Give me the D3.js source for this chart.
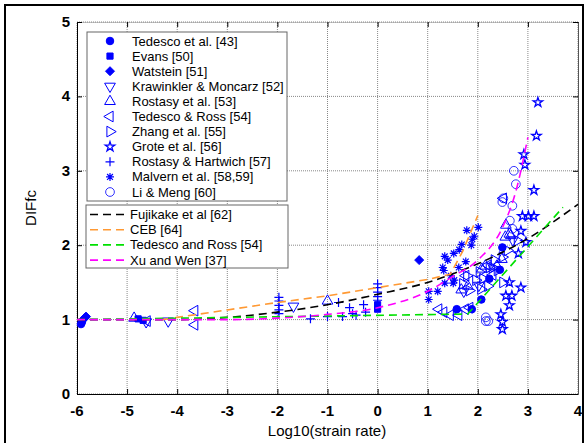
<!DOCTYPE html>
<html>
<head>
<title>DIFfc vs strain rate</title>
<style>
  body { margin: 0; background: #fff; }
  svg text { font-family: Arial, "Liberation Sans", sans-serif; }
</style>
</head>
<body>
<script src="https://d3js.org/d3.v7.min.js"></script>
<script>

var width = 585, height = 443;

// axis ticks
var xTicks = [-6, -5, -4, -3, -2, -1, 0, 1, 2, 3, 4];
var yTicks = [0, 1, 2, 3, 4, 5];

// experimental data, x = log10(strain rate), y = DIFfc
var tedesco43X = [-5.92, -5.9, 1.58, 1.88, 2.07, 2.23, 2.44, 2.49];
var tedesco43Y = [0.94, 0.97, 1.14, 1.14, 1.27, 1.55, 1.67, 1.97];
var evansX = [-4.78, -4.68, 0.0, 0.0];
var evansY = [1.01, 0.99, 1.14, 1.2];
var watsteinX = [-5.85, -5.82, 0.83];
var watsteinY = [1.02, 1.04, 1.8];
var krawinklerX = [-4.62, -4.18, -1.68, 1.72, 2.02, 2.7];
var krawinklerY = [0.97, 0.98, 1.18, 1.38, 1.46, 2.07];
var rostasyX = [-4.86, -1.0, 1.67, 1.8, 2.08, 2.15, 2.38, 2.48, 2.55, 2.63, 2.56, 2.66];
var rostasyY = [1.02, 1.25, 1.4, 1.45, 1.68, 1.72, 1.72, 1.81, 2.11, 2.15, 2.27, 2.13];
var tedescoRossX = [-4.6, -3.65, -3.65, 1.22, 1.32, 1.45, 1.62, 1.75, 1.84, 1.76, 2.2, 2.51, 2.3];
var tedescoRossY = [0.98, 1.12, 0.93, 1.14, 1.1, 1.06, 1.06, 1.14, 1.16, 1.59, 1.73, 2.63, 1.6];
var zhangX = [1.7, 1.78, 1.83, 1.96, 2.03, 2.06, 2.23, 2.29, 2.33, 2.39, 2.49, 2.59, 2.79, 2.5, 2.2, 2.1];
var zhangY = [1.48, 1.59, 1.39, 1.53, 1.64, 1.41, 1.7, 1.7, 1.8, 1.66, 1.84, 1.93, 2.06, 1.5, 1.45, 1.55];
var groteX = [2.89, 3.01, 3.12, 2.86, 2.96, 2.81, 2.63, 2.86, 2.56, 2.68, 2.63, 2.46, 2.49, 2.49, 3.2, 3.17, 2.92, 2.94, 3.12];
var groteY = [2.39, 2.39, 2.39, 2.19, 2.04, 1.89, 1.5, 1.43, 1.32, 1.32, 1.19, 1.07, 0.97, 0.87, 3.92, 3.47, 3.22, 3.08, 2.74];
var hartwichX = [-1.97, -1.97, -1.97, -1.97, -1.97, -1.34, -1.0, -0.78, -0.7, -0.56, -0.5, -0.43, -0.28, -0.24, 0, 0, 0, 0, 0];
var hartwichY = [1.3, 1.25, 1.19, 1.13, 1.08, 1.01, 1.04, 1.23, 1.04, 1.16, 1.08, 1.06, 1.2, 1.1, 1.48, 1.43, 1.37, 1.31, 1.26];
var malvernX = [1.02, 1.02, 1.2, 1.3, 1.34, 1.4, 1.52, 1.63, 1.68, 1.78, 1.87, 1.93, 2.01, 1.34, 1.51, 1.62, 1.76, 1.46, 1.53, 1.32, 1.89];
var malvernY = [1.38, 1.27, 1.38, 1.7, 1.85, 1.8, 1.89, 1.94, 2.01, 2.2, 2.0, 2.12, 2.24, 1.49, 1.49, 1.7, 1.78, 1.59, 1.53, 1.66, 2.08];
var liMengX = [2.72, 2.76, 2.51, 2.69, 2.64, 2.69, 2.16, 2.21, 2.16, 2.49];
var liMengY = [3.0, 2.82, 2.63, 2.53, 2.33, 2.22, 1.03, 0.98, 0.98, 2.58];

// model curves
var fujikakeX = [-6, -4, -3, -2, -1, 0, 1, 2, 3, 4];
var fujikakeY = [1.0, 1.0, 1.03, 1.1, 1.2, 1.34, 1.5, 1.75, 2.09, 2.55];
var cebX = [-4.3, -4, -3, -2, -1, 0, 1, 1.45, 1.7, 2.0];
var cebY = [1.0, 1.03, 1.13, 1.23, 1.32, 1.43, 1.54, 1.61, 1.92, 2.4];
var tedRossX = [-6, 1.8, 3.7];
var tedRossY = [1.0, 1.075, 2.51];
var xuWenX = [-6, -3, -2, -1, 0, 1, 1.5, 2, 2.5, 2.75, 3.0];
var xuWenY = [1.0, 1.0, 1.02, 1.07, 1.16, 1.38, 1.58, 1.8, 2.25, 2.7, 3.45];

var blue = '#0000ff';

var svg = d3.select('body').append('svg')
    .attr('width', width)
    .attr('height', height);

// outer frame
svg.append('rect')
    .attr('x', 5).attr('y', 5)
    .attr('width', 578).attr('height', 460)
    .attr('fill', 'none').attr('stroke', '#000').attr('stroke-width', 2);

var x = d3.scaleLinear().domain([-6, 4]).range([77, 578]);
var y = d3.scaleLinear().domain([0, 5]).range([394, 22]);

// grid
var grid = svg.append('g');
grid.selectAll('.gx').data(xTicks).enter().append('line')
    .attr('x1', function (d) { return x(d); }).attr('x2', function (d) { return x(d); })
    .attr('y1', y(0)).attr('y2', y(5))
    .attr('stroke', '#888').attr('stroke-dasharray', '1,1');
grid.selectAll('.gy').data(yTicks).enter().append('line')
    .attr('y1', function (d) { return y(d); }).attr('y2', function (d) { return y(d); })
    .attr('x1', x(-6)).attr('x2', x(4))
    .attr('stroke', '#888').attr('stroke-dasharray', '1,1');

// axes with inward ticks
function styleAxis(g) {
    g.select('.domain').attr('stroke', '#000');
    g.selectAll('.tick line').attr('stroke', '#000');
    g.selectAll('text').remove();
}
svg.append('g').attr('transform', 'translate(0,' + y(0) + ')')
    .call(d3.axisBottom(x).tickValues(xTicks).tickSizeInner(-5).tickSizeOuter(0)).call(styleAxis);
svg.append('g').attr('transform', 'translate(0,' + y(5) + ')')
    .call(d3.axisTop(x).tickValues(xTicks).tickSizeInner(-5).tickSizeOuter(0)).call(styleAxis)
    .select('.domain').attr('stroke', '#888').attr('stroke-dasharray', '1,1');
svg.append('g').attr('transform', 'translate(' + x(-6) + ',0)')
    .call(d3.axisLeft(y).tickValues(yTicks).tickSizeInner(-5).tickSizeOuter(0)).call(styleAxis);
svg.append('g').attr('transform', 'translate(' + x(4) + ',0)')
    .call(d3.axisRight(y).tickValues(yTicks).tickSizeInner(-5).tickSizeOuter(0)).call(styleAxis)
    .select('.domain').attr('stroke', '#555');

// tick labels
svg.selectAll('.xl').data(xTicks).enter().append('text')
    .attr('x', function (d) { return x(d); }).attr('y', 416)
    .attr('text-anchor', 'middle').attr('font-size', 15).attr('font-weight', 'bold')
    .text(function (d) { return d; });
svg.selectAll('.yl').data(yTicks).enter().append('text')
    .attr('x', 70).attr('y', function (d) { return y(d) + 5; })
    .attr('text-anchor', 'end').attr('font-size', 15).attr('font-weight', 'bold')
    .text(function (d) { return d; });

svg.append('text').attr('x', 327).attr('y', 436)
    .attr('text-anchor', 'middle').attr('font-size', 15)
    .text('Log10(strain rate)');
svg.append('text').attr('transform', 'translate(36,208) rotate(-90)')
    .attr('text-anchor', 'middle').attr('font-size', 15)
    .text('DIFfc');

// symbols
var triPath = d3.symbol().type(d3.symbolTriangle).size(50)();
var diamondPath = 'M0,-4.5L4.5,0L0,4.5L-4.5,0Z';
var plusPath = 'M-4.5,0H4.5M0,-4.5V4.5';
var astPath = 'M-4,0H4M0,-4V4M-2.9,-2.9L2.9,2.9M-2.9,2.9L2.9,-2.9';

var series = [
    { name: 'Tedesco et al. [43]', xs: tedesco43X, ys: tedesco43Y, path: d3.symbol().type(d3.symbolCircle).size(45)(), fill: true },
    { name: 'Evans [50]', xs: evansX, ys: evansY, path: d3.symbol().type(d3.symbolSquare).size(38)(), fill: true },
    { name: 'Watstein [51]', xs: watsteinX, ys: watsteinY, path: diamondPath, fill: true },
    { name: 'Krawinkler & Moncarz [52]', xs: krawinklerX, ys: krawinklerY, path: triPath, rot: 180 },
    { name: 'Rostasy et al. [53]', xs: rostasyX, ys: rostasyY, path: triPath, rot: 0 },
    { name: 'Tedesco & Ross [54]', xs: tedescoRossX, ys: tedescoRossY, path: triPath, rot: -90 },
    { name: 'Zhang et al. [55]', xs: zhangX, ys: zhangY, path: triPath, rot: 90 },
    { name: 'Grote et al. [56]', xs: groteX, ys: groteY, path: d3.symbol().type(d3.symbolStar).size(28)(), sw: 1.3 },
    { name: 'Rostasy & Hartwich [57]', xs: hartwichX, ys: hartwichY, path: plusPath, sw: 1.2 },
    { name: 'Malvern et al. [58,59]', xs: malvernX, ys: malvernY, path: astPath, sw: 1.2 },
    { name: 'Li & Meng [60]', xs: liMengX, ys: liMengY, path: d3.symbol().type(d3.symbolCircle).size(60)(), sw: 0.8 }
];

function drawMark(g, s, px, py) {
    g.append('path')
        .attr('d', s.path)
        .attr('transform', 'translate(' + px + ',' + py + ') rotate(' + (s.rot || 0) + ')')
        .attr('fill', s.fill ? blue : 'none')
        .attr('stroke', blue)
        .attr('stroke-width', s.sw || 1);
}

// model lines
var lines = [
    { name: 'Fujikake et al [62]', xs: fujikakeX, ys: fujikakeY, color: '#000000', curve: d3.curveMonotoneX },
    { name: 'CEB [64]', xs: cebX, ys: cebY, color: '#ff9933', curve: d3.curveLinear },
    { name: 'Tedesco and Ross [54]', xs: tedRossX, ys: tedRossY, color: '#00e000', curve: d3.curveLinear },
    { name: 'Xu and Wen [37]', xs: xuWenX, ys: xuWenY, color: '#ff00ff', curve: d3.curveMonotoneX }
];

var marks = svg.append('g');
series.forEach(function (s) {
    s.xs.forEach(function (v, i) { drawMark(marks, s, x(v), y(s.ys[i])); });
});

lines.forEach(function (l) {
    var line = d3.line().x(function (d) { return x(d[0]); }).y(function (d) { return y(d[1]); })
        .curve(l.curve);
    svg.append('path')
        .datum(l.xs.map(function (v, i) { return [v, l.ys[i]]; }))
        .attr('d', line)
        .attr('fill', 'none')
        .attr('stroke', l.color)
        .attr('stroke-width', 1.6)
        .attr('stroke-dasharray', '8,5');
});

// legend 1 - markers
var leg1 = svg.append('g');
leg1.append('rect').attr('x', 87).attr('y', 32).attr('width', 200).attr('height', 169)
    .attr('fill', '#fff').attr('stroke', '#666');
series.forEach(function (s, i) {
    var ly = 41 + i * 15.1;
    drawMark(leg1, s, 110, ly);
    leg1.append('text').attr('x', 132).attr('y', ly + 4.5)
        .attr('font-size', 13).text(s.name);
});

// legend 2 - lines
var leg2 = svg.append('g');
leg2.append('rect').attr('x', 86).attr('y', 205).attr('width', 202).attr('height', 63)
    .attr('fill', '#fff').attr('stroke', '#666');
lines.forEach(function (l, i) {
    var ly = 214.5 + i * 15.2;
    leg2.append('line').attr('x1', 90).attr('x2', 128).attr('y1', ly).attr('y2', ly)
        .attr('stroke', l.color).attr('stroke-width', 1.6).attr('stroke-dasharray', '8,5');
    leg2.append('text').attr('x', 130).attr('y', ly + 4.5)
        .attr('font-size', 13).text(l.name);
});

</script>
</body>
</html>
